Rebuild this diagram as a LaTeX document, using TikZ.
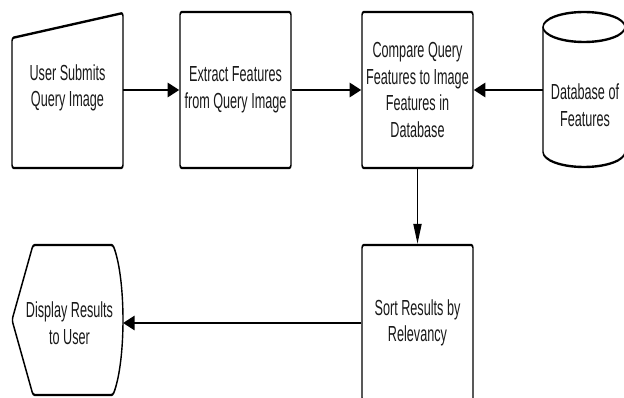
\documentclass[tikz,border=0pt]{standalone}
\usepackage{fontspec}
\setmainfont{Liberation Sans}
\usetikzlibrary{arrows.meta}
\begin{document}
\begin{tikzpicture}[x=1pt,y=-1pt,
  shp/.style={draw=black, line width=2.4pt, line join=round},
  txt/.style={font=\fontsize{21.8}{26.5}\selectfont, align=center, text=black!90, inner sep=0pt},
  box/.style={shp, txt, rounded corners=3pt, minimum width=191.4pt, minimum height=156pt},
  ghost/.style={txt, minimum width=191.4pt, minimum height=150pt},
  arr/.style={line width=2.8pt, -{Triangle[length=20pt,width=14pt]}}]
\useasboundingbox (0,0) rectangle (624,398);
\begin{scope}[transform canvas={xscale=0.58}, x=1.72414pt]
\clip (0,0) rectangle (624,398);
% manual input
\draw[shp, rounded corners=3pt] (12,38) -- (123,13) -- (123,168) -- (12,168) -- cycle;
\node[ghost] (usr) at (67.5,88) {User Submits\\Query Image};
% process boxes
\node[box] (ext) at (235.5,90) {Extract Features\\from Query Image};
\node[box] (cmp) at (417.5,90) {Compare Query\\Features to Image\\Features in\\Database};
% cylinder
\draw[shp] (543,27) -- (543,152) arc[start angle=180, end angle=0, x radius=41, y radius=15] -- (625,27);
\draw[shp] (584,27) ellipse [x radius=41, y radius=15];
\node[txt] (db) at (585,105) {Database of\\Features};
\coordinate (dbw) at (543,90);
% sort
\node[box] (srt) at (417.5,323) {Sort Results by\\Relevancy};
% display
\draw[shp, rounded corners=3pt] (33,245) -- (113,245) .. controls (126,280) and (126,360) .. (113,395) -- (33,395) -- (12,320) -- cycle;
\node[txt, minimum width=184pt, minimum height=140pt] (dsp) at (69.5,323) {Display Results\\to User};
% connectors
\draw[arr] (usr.east |- ext) -- (ext);
\draw[arr] (ext) -- (cmp);
\draw[arr] (dbw) -- (cmp);
\draw[arr] (cmp) -- (srt);
\draw[arr] (srt) -- (dsp);
\end{scope}
\end{tikzpicture}
\end{document}
